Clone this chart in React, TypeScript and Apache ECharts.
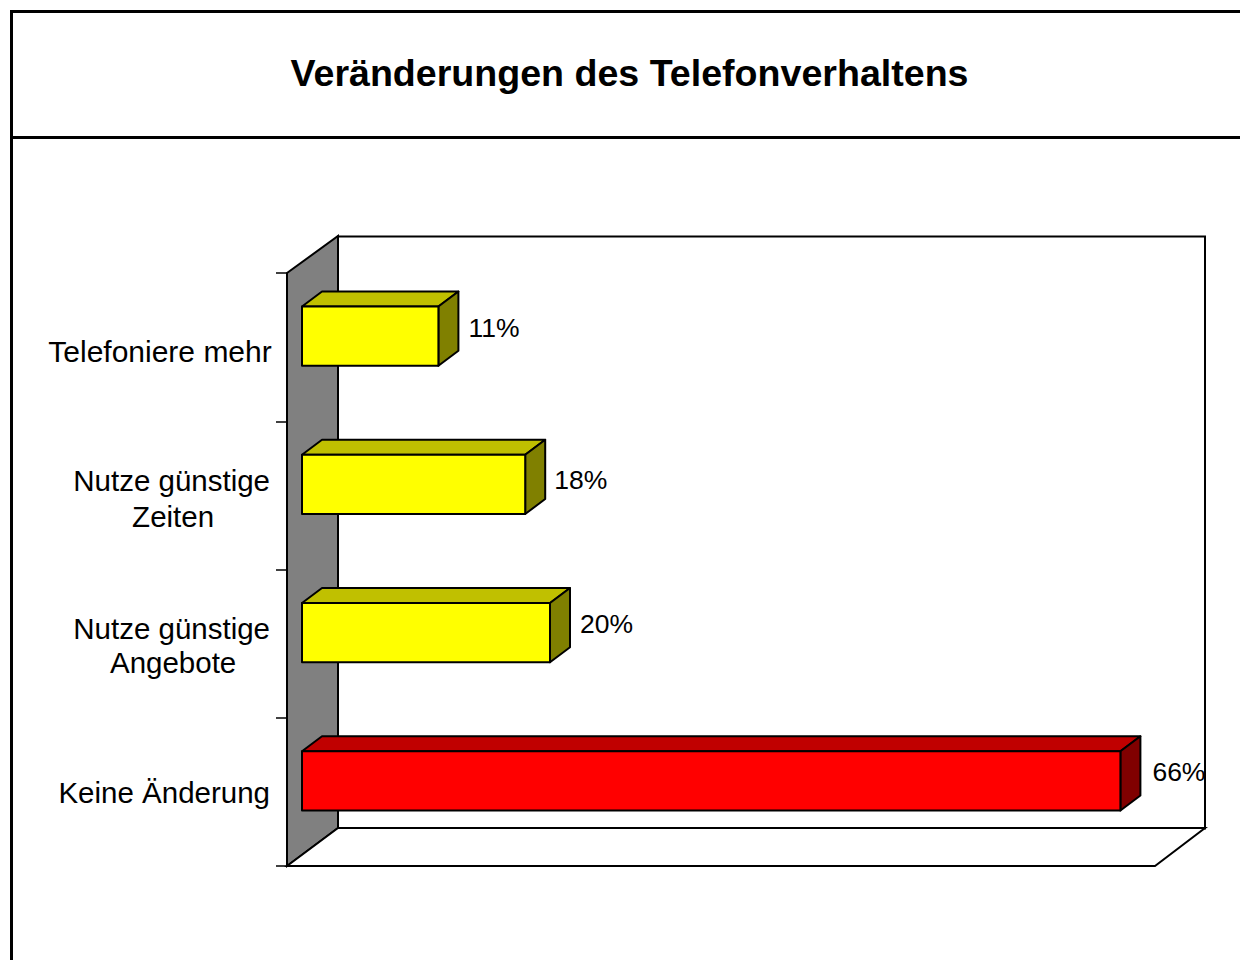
import React, { useEffect, useRef } from "react";
import * as echarts from "echarts";

const categories = [
  "Telefoniere mehr",
  "Nutze günstige\nZeiten",
  "Nutze günstige\nAngebote",
  "Keine Änderung",
];
const values = [11, 18, 20, 66];
const faceColors = ["#ffff00", "#ffff00", "#ffff00", "#ff0000"];
const topColors = ["#c0c000", "#c0c000", "#c0c000", "#c00000"];
const sideColors = ["#808000", "#808000", "#808000", "#800000"];
const valueLabels = ["11%", "18%", "20%", "66%"];
const title = "Veränderungen des Telefonverhaltens";

const FONT = '"Liberation Sans", Arial, sans-serif';
const labelShiftX = [-1, -2, -1, 1];
const labelShiftY = [0, 4, -1, -1];
const richKeys = [["t"], ["a", "a2"], ["b", "b2"], ["k"]];
const base = { align: "center", fontFamily: FONT, fontSize: 29.5, color: "#000" };

export default function App() {
  const ref = useRef<HTMLDivElement>(null);
  useEffect(() => {
    document.body.style.margin = "0";
    const chart = echarts.init(ref.current!, null, { renderer: "svg" });
    chart.setOption({
      animation: false,
      backgroundColor: "#fff",
      title: {
        text: title,
        left: 624.5,
        top: 45,
        textAlign: "center",
        textStyle: { fontFamily: FONT, fontWeight: "bold", fontSize: 37.6, color: "#000", lineHeight: 46 },
      },
      grid: { left: 287, top: 273, width: 868, height: 593 },
      xAxis: {
        type: "value",
        min: 0,
        max: 70,
        interval: 10,
        axisLine: { show: false },
        axisTick: { show: false },
        axisLabel: { show: false },
        splitLine: { show: false },
      },
      yAxis: {
        type: "category",
        inverse: true,
        data: categories,
        axisLine: { show: false },
        axisTick: { show: true, length: 11, lineStyle: { color: "#000", width: 1.5 } },
        axisLabel: {
          margin: 15,
          align: "right",
          fontFamily: FONT,
          fontSize: 29.5,
          color: "#000",
          formatter: (v: string, i: number) =>
            v.split("\n").map((s, j) => `{${richKeys[i][j]}|${s}}`).join("\n"),
          rich: {
            t: { ...base, fontSize: 30, lineHeight: 35, padding: [8, 0, 0, 0], width: 224 },
            a: { ...base, lineHeight: 36, padding: [7, 2, 0, 0] },
            a2: { ...base, lineHeight: 36, padding: [7, 0, 0, 1] },
            b: { ...base, lineHeight: 34, padding: [3, 2, 0, 0] },
            b2: { ...base, lineHeight: 34, padding: [3, 0, 0, 1] },
            k: { ...base, lineHeight: 35, padding: [2, 2, 0, 0] },
          },
        },
      },
      graphic: [
        { type: "rect", z: 0, shape: { x: 11.5, y: 11.5, width: 1300, height: 1100 }, style: { fill: "#fff", stroke: "#000", lineWidth: 3 } },
        { type: "line", z: 1, shape: { x1: 11, y1: 137.5, x2: 1240, y2: 137.5 }, style: { stroke: "#000", lineWidth: 3 } },
        { type: "rect", z: 1, shape: { x: 338, y: 236.5, width: 867, height: 592 }, style: { fill: "#fff", stroke: "#000", lineWidth: 2 } },
        { type: "polygon", z: 1, shape: { points: [[287, 273], [338, 236], [338, 828], [287, 866]] }, style: { fill: "#808080", stroke: "#000", lineWidth: 2 } },
        { type: "polygon", z: 1, shape: { points: [[287, 866], [338, 828], [1205, 828], [1155, 866]] }, style: { fill: "#fff", stroke: "#000", lineWidth: 2 } },
      ],
      series: [
        {
          type: "custom",
          z: 5,
          data: values.map((v, i) => [v, i]),
          encode: { x: 0, y: 1 },
          renderItem: (params: any, api: any) => {
            const i = api.value(1);
            const start = api.coord([0, i]);
            const end = api.coord([api.value(0), i]);
            const h = api.size([0, 1])[1] * 0.4;
            const x0 = start[0] + 15;
            const x1 = end[0] + 15;
            const y0 = start[1] - 11 - h / 2;
            const y1 = y0 + h;
            const dx = 20;
            const dy = -15;
            const stroke = { stroke: "#000", lineWidth: 2, lineJoin: "round" };
            return {
              type: "group",
              children: [
                { type: "polygon", shape: { points: [[x0, y0], [x0 + dx, y0 + dy], [x1 + dx, y0 + dy], [x1, y0]] }, style: { fill: topColors[i], ...stroke } },
                { type: "polygon", shape: { points: [[x1, y0], [x1 + dx, y0 + dy], [x1 + dx, y1 + dy], [x1, y1]] }, style: { fill: sideColors[i], ...stroke } },
                { type: "rect", shape: { x: x0, y: y0, width: x1 - x0, height: h }, style: { fill: faceColors[i], ...stroke } },
                {
                  type: "text",
                  style: {
                    x: x1 + 31 + labelShiftX[i],
                    y: (y0 + y1) / 2 - 8 + labelShiftY[i],
                    text: valueLabels[i],
                    fill: "#000",
                    font: `26.5px ${FONT}`,
                    textAlign: "left",
                    textVerticalAlign: "middle",
                  },
                },
              ],
            };
          },
        },
      ],
    });
    return () => chart.dispose();
  }, []);
  return <div ref={ref} style={{ position: "absolute", left: 0, top: 0, width: 1240, height: 960 }} />;
}
